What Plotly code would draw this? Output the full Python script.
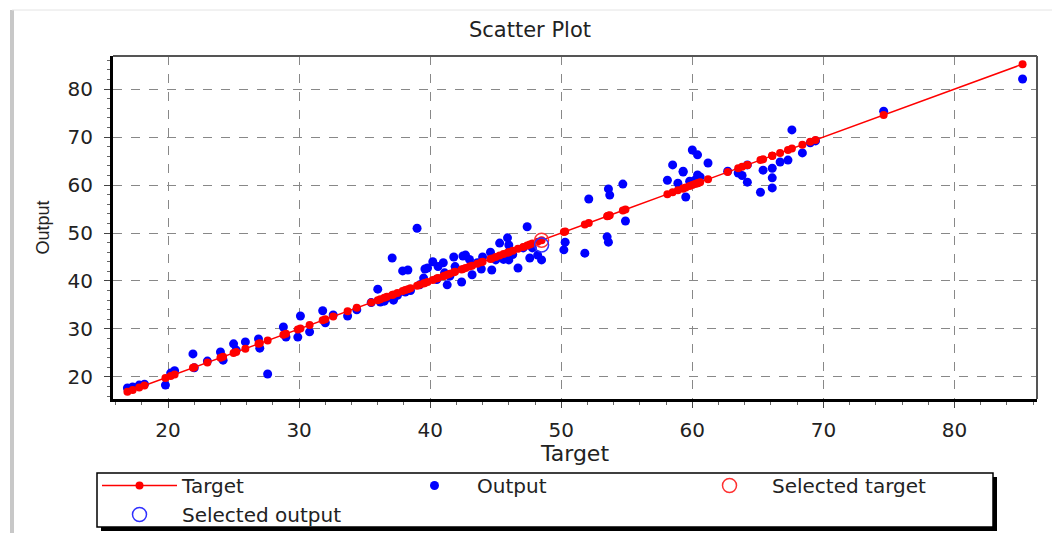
import plotly.graph_objects as go

# ---- data ----
target = [16.9, 17.3, 17.8, 18.2, 19.8, 20.2, 20.5, 21.9, 22.0, 23.0,
          24.0, 24.2, 25.0, 25.2, 25.9, 26.9, 27.0, 27.6, 28.8, 29.0,
          29.9, 30.1, 30.8, 31.8, 32.0, 32.6, 33.7, 34.4, 36.0, 36.2,
          36.7, 37.1, 37.2, 37.9, 38.1, 39.0, 39.2, 39.5, 39.8, 40.2,
          41.3, 41.1, 41.8, 42.7, 42.4, 43.2, 43.6, 38.3, 39.6, 41.0,
          42.5, 44.6, 45.3, 45.9, 44.7, 45.0, 46.0, 46.7, 47.4, 47.1,
          47.8, 48.2, 48.5, 50.3, 50.2, 51.8, 52.1, 53.5, 53.6, 53.6,
          53.7, 54.7, 54.9, 58.1, 58.9, 59.3, 59.5, 60.4, 60.0, 60.4,
          58.5, 59.3, 61.2, 60.6, 60.2, 59.8, 62.7, 63.5, 64.2, 63.8,
          64.2, 65.2, 66.1, 65.4, 66.1, 66.1, 66.7, 67.3, 67.6, 68.4,
          69.0, 69.4, 74.6, 85.2,
          40.6, 41.5, 43.0, 43.9, 44.0, 45.6, 46.3, 46.0, 47.6, 35.5,
          36.5, 37.5, 38.5, 40.5, 41.9]
output = [17.7, 17.9, 18.3, 18.5, 18.3, 20.8, 21.3, 24.8, 21.9, 23.3,
          25.2, 23.5, 26.9, 25.6, 27.3, 27.9, 26.0, 20.6, 30.4, 28.3,
          28.3, 32.7, 29.4, 33.8, 31.3, 32.9, 32.7, 34.0, 38.3, 35.6,
          36.5, 44.8, 36.0, 42.1, 37.7, 51.0, 39.2, 40.6, 42.7, 44.0,
          39.2, 41.7, 45.0, 45.4, 39.8, 41.3, 43.8, 42.3, 42.5, 43.8,
          45.2, 46.0, 47.9, 49.0, 42.3, 44.4, 44.4, 42.7, 51.3, 46.9,
          46.9, 45.4, 44.4, 48.1, 46.5, 45.8, 57.1, 49.2, 48.1, 59.2,
          57.9, 60.2, 52.5, 61.0, 60.4, 62.7, 57.5, 62.1, 67.3, 66.3,
          64.2, 62.9, 64.6, 61.7, 61.0, 60.8, 62.9, 62.5, 64.2, 62.0,
          60.6, 58.5, 59.4, 63.1, 63.5, 61.5, 64.8, 65.2, 71.5, 66.7,
          68.8, 69.2, 75.4, 82.1,
          43.0, 41.0, 44.5, 42.5, 45.0, 44.5, 45.5, 47.5, 44.8, 35.5,
          35.8, 37.0, 38.0, 40.3, 43.0]
selected_target = [48.5]
selected_output = [47.5]

x_ticks = [20, 30, 40, 50, 60, 70, 80]
y_ticks = [20, 30, 40, 50, 60, 70, 80]

t_sorted = sorted(target)

FONT = "DejaVu Sans, Liberation Sans, Arial, sans-serif"
NARROW = "Liberation Sans Narrow, Liberation Sans, Arial, sans-serif"

fig = go.Figure()

fig.add_trace(go.Scatter(
    x=target, y=output, mode="markers", name="Output", legendrank=2,
    marker=dict(color="#0000ff", size=9, line=dict(width=0)),
))
fig.add_trace(go.Scatter(
    x=t_sorted, y=t_sorted, mode="lines+markers", name="Target", legendrank=1,
    line=dict(color="#ff0000", width=1.5),
    marker=dict(color="#ff0000", size=8),
))
fig.add_trace(go.Scatter(
    x=selected_target, y=selected_target, mode="markers", name="Selected target",
    legendrank=3,
    marker=dict(color="#ff3030", size=14, symbol="circle-open", line=dict(width=1.5)),
))
fig.add_trace(go.Scatter(
    x=selected_target, y=selected_output, mode="markers", name="Selected output",
    legendrank=4,
    marker=dict(color="#3030ff", size=14, symbol="circle-open", line=dict(width=1.5)),
))

W, H = 1052, 533
L, R, T, B = 113, 15, 56, 134
pw, ph = W - L - R, H - T - B


def px2paper(px, py):
    return (px - L) / pw, (H - B - py) / ph


axis_common = dict(
    showline=True, linecolor="black", linewidth=3,
    ticks="outside", ticklen=6, tickwidth=1, tickcolor="#444",
    showgrid=True, gridcolor="#888", griddash="dash", gridwidth=1,
    zeroline=False,
    tickfont=dict(family=FONT, size=20, color="#222"),
    minor=dict(dtick=2, ticks="outside", ticklen=3, tickcolor="#666", showgrid=False),
)

fig.update_xaxes(range=[15.8, 86.3], tickvals=x_ticks, ticklabelstandoff=5,
                 title=dict(text="Target", font=dict(family=FONT, size=22, color="#222"),
                            standoff=2),
                 **axis_common)
fig.update_yaxes(range=[15.4, 86.9], tickvals=y_ticks, ticklabelstandoff=7,
                 title=dict(text="Output", font=dict(family=NARROW, size=18, color="#222"),
                            standoff=14),
                 **axis_common)

shapes = []
# top and right frame edges
shapes.append(dict(type="line", xref="x domain", yref="y domain", x0=0, x1=1, y0=1, y1=1,
                   line=dict(color="#555", width=2)))
shapes.append(dict(type="line", xref="x domain", yref="y domain", x0=1, x1=1, y0=0, y1=1,
                   line=dict(color="#555", width=2)))
# legend shadow and box
sx0, sy0 = px2paper(101, 531)
sx1, sy1 = px2paper(997, 477)
shapes.append(dict(type="rect", xref="paper", yref="paper", x0=sx0, x1=sx1, y0=sy0, y1=sy1,
                   fillcolor="black", line=dict(width=0), layer="below"))
bx0, by0 = px2paper(97, 527)
bx1, by1 = px2paper(993, 473)
shapes.append(dict(type="rect", xref="paper", yref="paper", x0=bx0, x1=bx1, y0=by0, y1=by1,
                   fillcolor="white", line=dict(color="black", width=1.5), layer="below"))
# outer window frame
fx, fy0 = px2paper(12, 10)
_, fy1 = px2paper(12, 533)
shapes.append(dict(type="line", xref="paper", yref="paper", x0=fx, x1=fx, y0=fy0, y1=fy1,
                   line=dict(color="#c8c8c8", width=4)))
tx1, _ = px2paper(1052, 10)
shapes.append(dict(type="line", xref="paper", yref="paper", x0=fx, x1=tx1, y0=fy0, y1=fy0,
                   line=dict(color="#e4e4e4", width=1)))

fig.update_layout(
    width=W, height=H,
    margin=dict(l=L, r=R, t=T, b=B, autoexpand=False),
    paper_bgcolor="white", plot_bgcolor="white",
    font=dict(family=FONT, color="#222"),
    title=dict(text="Scatter Plot", x=530 / W, xanchor="center", y=1 - 30 / H,
               yanchor="middle", font=dict(family=FONT, size=21, color="#222")),
    showlegend=True,
    legend=dict(orientation="h", x=97 / W, y=1 - 466 / H, xanchor="left", yanchor="top",
                xref="container", yref="container",
                bgcolor="rgba(0,0,0,0)", borderwidth=0,
                font=dict(family=FONT, size=20, color="#222"),
                entrywidth=205, entrywidthmode="pixels", itemwidth=75,
                traceorder="normal", tracegroupgap=0),
    shapes=shapes,
)

fig.write_html("out.html")
